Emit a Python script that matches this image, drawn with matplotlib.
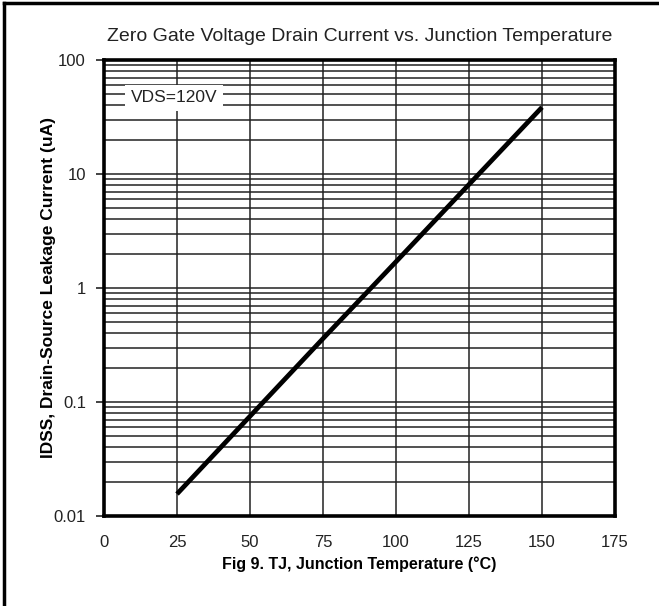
import numpy as np
import matplotlib.pyplot as plt
from matplotlib.lines import Line2D
from matplotlib.ticker import FixedLocator, NullFormatter

# junction temperature (C) and leakage current IDSS (uA) at VDS = 120 V
temp = [25, 50, 75, 100, 125, 150]
idss = [0.0156, 0.075, 0.36, 1.7, 8.1, 38.5]

x_ticks = [0, 25, 50, 75, 100, 125, 150, 175]
y_ticks = [0.01, 0.1, 1, 10, 100]
y_labels = ['0.01', '0.1', '1', '10', '100']

plt.rcParams['font.family'] = ['Liberation Sans', 'DejaVu Sans']

fig = plt.figure(figsize=(6.59, 6.06), dpi=100)
ax = fig.add_axes([104/659, 1 - 516/606, 511/659, 456/606])

# grid lines: every 25 C, and every minor decade step
minor = [m * 10.0**e for e in range(-2, 2) for m in range(2, 10)]
for v in x_ticks[1:-1]:
    ax.axvline(v, color='#222222', lw=1.1, zorder=1)
for v in y_ticks[1:-1] + minor:
    ax.axhline(v, color='#222222', lw=1.1, zorder=1)

ax.plot(temp, idss, color='black', lw=3.4, solid_capstyle='butt', zorder=3)

ax.set_yscale('log')
ax.set_xlim(0, 175)
ax.set_ylim(0.01, 100)
ax.xaxis.set_major_locator(FixedLocator(x_ticks))
ax.yaxis.set_major_locator(FixedLocator(y_ticks))
ax.yaxis.set_minor_locator(FixedLocator(minor))
ax.yaxis.set_minor_formatter(NullFormatter())
ax.set_yticklabels(y_labels)
ax.tick_params(axis='x', length=0, pad=14, labelsize=12, colors='#222222')
ax.tick_params(axis='y', which='major', length=6, width=1.2, pad=7, labelsize=12, colors='#222222')
ax.tick_params(axis='y', which='minor', length=0)
for s in ax.spines.values():
    s.set_linewidth(2.6)

ax.set_title('Zero Gate Voltage Drain Current vs. Junction Temperature',
             fontsize=14, color='#222222', pad=14)
ax.set_xlabel('Fig 9. TJ, Junction Temperature (°C)', fontsize=11.5,
              fontweight='bold', labelpad=4)
ax.set_ylabel('IDSS, Drain-Source Leakage Current (uA)', fontsize=12.5,
              fontweight='bold', labelpad=-2)

ax.text(0.137, 0.917, 'VDS=120V', transform=ax.transAxes, ha='center', va='center',
        fontsize=12.5, color='#222222', zorder=4,
        bbox=dict(facecolor='white', edgecolor='none', pad=4))

# frame lines along top and left of the figure
fig.add_artist(Line2D([4/659, 1], [1 - 3/606, 1 - 3/606], color='black', lw=2.5))
fig.add_artist(Line2D([4/659, 4/659], [0, 1 - 3/606], color='black', lw=2.5))

fig.savefig('out.png', dpi=100)
